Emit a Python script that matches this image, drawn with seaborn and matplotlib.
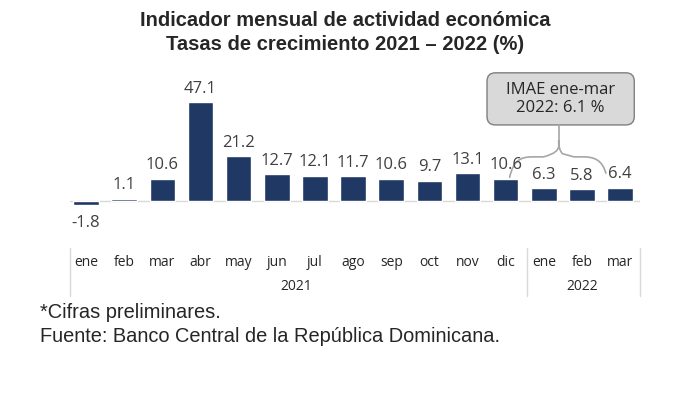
import pandas as pd
import seaborn as sns
import matplotlib.pyplot as plt
from matplotlib.path import Path
from matplotlib.patches import PathPatch, FancyBboxPatch

# datos
meses = ["ene", "feb", "mar", "abr", "may", "jun", "jul", "ago", "sep", "oct", "nov", "dic",
         "ene", "feb", "mar"]
anios = ["2021"] * 12 + ["2022"] * 3
valores = [-1.8, 1.1, 10.6, 47.1, 21.2, 12.7, 12.1, 11.7, 10.6, 9.7, 13.1, 10.6, 6.3, 5.8, 6.4]
etiquetas = [f"{v:.1f}" for v in valores]

df = pd.DataFrame({"mes": meses, "anio": anios, "valor": valores})
df["periodo"] = df["mes"] + "-" + df["anio"]

sns.set_theme(style="white")
plt.rcParams["font.family"] = ["Open Sans", "DejaVu Sans"]

fig = plt.figure(figsize=(6.95, 4.0), dpi=100)
ax = fig.add_axes([70 / 695, 0.25, 570 / 695, 0.6])

sns.barplot(data=df, x="periodo", y="valor", order=list(df["periodo"]),
            color="#1f3864", saturation=1, width=0.67, ax=ax)

ax.set_xlim(-0.42, 14.52)
ax.set_ylim(-47.1, 67.1)
ax.axis("off")
ax.axhline(0, color="#d9d9d9", lw=1, zorder=0)

gris = "#404040"
for i, (v, t) in enumerate(zip(valores, etiquetas)):
    if v >= 0:
        ax.text(i, v + 2.5, t, ha="center", va="bottom", fontsize=12, color=gris)
    else:
        ax.text(i, v - 5, t, ha="center", va="top", fontsize=12, color=gris)

# eje de categorias
xt = ax.get_xaxis_transform()
for i, m in enumerate(meses):
    ax.text(i, 0.158, m, transform=xt, ha="center", va="center", fontsize=10, color="#262626")
ax.text(5.5, 0.058, "2021", transform=xt, ha="center", va="center", fontsize=10, color="#262626")
ax.text(13, 0.058, "2022", transform=xt, ha="center", va="center", fontsize=10, color="#262626")
for xs in [-0.42, 11.56, 14.52]:
    ax.plot([xs, xs], [0.017, 0.217], transform=xt, color="#d9d9d9", lw=1, clip_on=False)

# llave y recuadro
x0, xm, x1 = 11.1, 12.39, 13.63
yb, ym, yt = 11, 21, 29
verts = [(x0, yb), (x0 + 0.1, ym - 1.5), (x0 + 0.3, ym), (x0 + 0.6, ym),
         (xm - 0.4, ym), (xm - 0.4, ym), (xm - 0.1, ym + 1.5),
         (xm - 0.02, ym + 3), (xm, yt - 3), (xm, yt),
         (xm, yt - 3), (xm + 0.02, ym + 3), (xm + 0.1, ym + 1.5),
         (xm + 0.4, ym), (xm + 0.4, ym), (x1 - 0.6, ym),
         (x1 - 0.3, ym), (x1 - 0.1, ym - 1.5), (x1, yb + 2)]
codes = [Path.MOVETO] + [Path.CURVE4] * 3 + [Path.LINETO, Path.LINETO] + [Path.CURVE4] * 3 \
        + [Path.LINETO] + [Path.CURVE4] * 3 + [Path.LINETO, Path.LINETO, Path.LINETO] + [Path.CURVE4] * 3
ax.add_patch(PathPatch(Path(verts, codes), fill=False, edgecolor="#a6a6a6", lw=1.2, clip_on=False))
ax.plot([xm, xm], [yt, 36.2], color="#a6a6a6", lw=1.2, clip_on=False)

ax.add_patch(FancyBboxPatch((10.51, 36.2), 14.37 - 10.51, 61 - 36.2,
                            boxstyle="round,pad=0,rounding_size=0.22", mutation_aspect=18.2,
                            facecolor="#d9d9d9", edgecolor="#7f7f7f", lw=1, clip_on=False))
ax.text(12.44, 48.6, "IMAE ene-mar\n2022: 6.1 %", ha="center", va="center", fontsize=12,
        color="#262626", linespacing=1.2)

# titulos
fuente = ["Liberation Sans", "DejaVu Sans"]
fig.text(0.497, 1 - 20 / 400, "Indicador mensual de actividad económica", ha="center", va="center",
         fontsize=14.5, fontweight="bold", family=fuente)
fig.text(0.497, 1 - 45 / 400, "Tasas de crecimiento 2021 – 2022 (%)", ha="center", va="center",
         fontsize=14.5, fontweight="bold", family=fuente)

fig.text(40 / 695, 1 - 313 / 400, "*Cifras preliminares.", ha="left", va="center",
         fontsize=14.4, family=fuente)
fig.text(40 / 695, 1 - 336 / 400, "Fuente: Banco Central de la República Dominicana.", ha="left",
         va="center", fontsize=14.4, family=fuente)

fig.savefig("out.png", dpi=100)
